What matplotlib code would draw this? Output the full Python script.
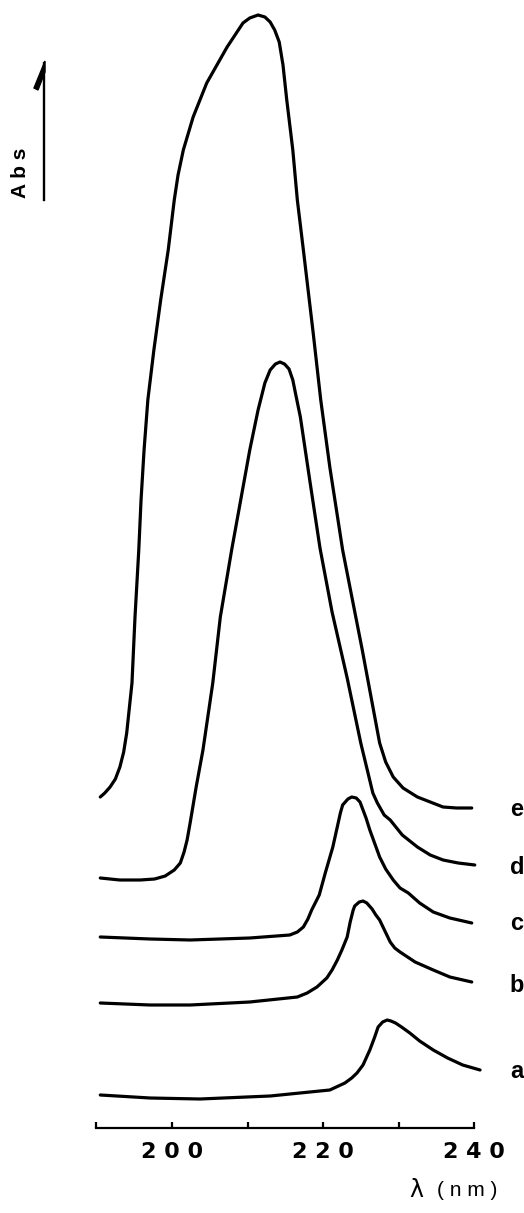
import numpy as np
import matplotlib
matplotlib.use('Agg')
import matplotlib.pyplot as plt
from matplotlib.patches import Polygon

### spectra: wavelength (nm), absorbance (arb. units, offset)
lam_a = [190.5, 197.1, 203.7, 213.0, 220.9, 222.9, 223.8, 224.5, 225.3, 226.2, 226.8, 227.3,
         227.9, 228.5, 229.0, 229.6, 230.4, 231.5, 232.8, 234.6, 236.5, 238.5, 240.8]
abs_a = [0.33, 0.30, 0.29, 0.32, 0.38, 0.45, 0.50, 0.55, 0.63, 0.78, 0.90, 1.01,
         1.06, 1.08, 1.07, 1.05, 1.01, 0.95, 0.87, 0.78, 0.70, 0.63, 0.58]

lam_b = [190.5, 197.1, 202.4, 210.3, 216.6, 217.9, 219.2, 220.5, 221.2, 221.9, 222.5, 223.2,
         223.6, 224.0, 224.2, 224.8, 225.3, 225.8, 226.5, 227.0, 227.5, 228.9, 229.5,
         230.2, 232.2, 234.6, 236.8, 239.7]
abs_b = [1.25, 1.23, 1.23, 1.26, 1.31, 1.35, 1.41, 1.50, 1.58, 1.68, 1.78, 1.91,
         2.06, 2.18, 2.22, 2.26, 2.27, 2.25, 2.19, 2.13, 2.08, 1.86, 1.80,
         1.76, 1.66, 1.58, 1.51, 1.46]

lam_c = [190.5, 197.1, 202.4, 210.3, 215.6, 216.6, 217.4, 218.0, 218.5, 219.5, 220.3, 221.3,
         222.3, 222.6, 223.3, 223.8, 224.4, 224.9, 225.3, 225.7, 226.2, 227.5, 228.3,
         229.3, 230.2, 231.3, 232.8, 234.6, 236.8, 239.7]
abs_c = [1.91, 1.89, 1.88, 1.90, 1.93, 1.96, 2.01, 2.09, 2.18, 2.33, 2.55, 2.81,
         3.15, 3.23, 3.29, 3.31, 3.30, 3.26, 3.18, 3.10, 2.98, 2.71, 2.59,
         2.48, 2.40, 2.35, 2.25, 2.16, 2.10, 2.05]

lam_d = [190.5, 193.1, 195.8, 197.7, 199.1, 200.3, 201.1, 201.6, 202.0, 202.4, 203.2, 204.1,
         205.4, 206.4, 207.9, 210.3, 211.4, 212.3, 213.0, 213.7, 214.3, 214.9, 215.5,
         216.0, 216.4, 217.0, 218.3, 219.6, 221.2, 223.2, 225.0, 226.6, 227.2, 228.1,
         228.9, 230.5, 232.5, 234.2, 235.9, 237.9, 240.1]
abs_d = [2.50, 2.48, 2.48, 2.49, 2.52, 2.58, 2.65, 2.76, 2.88, 3.05, 3.41, 3.78,
         4.45, 5.11, 5.78, 6.78, 7.18, 7.45, 7.58, 7.64, 7.66, 7.64, 7.59,
         7.48, 7.33, 7.11, 6.45, 5.80, 5.16, 4.50, 3.85, 3.35, 3.25, 3.13,
         3.08, 2.93, 2.81, 2.73, 2.68, 2.65, 2.63]

lam_e = [190.5, 191.1, 191.8, 192.5, 193.1, 193.6, 194.0, 194.7, 195.1, 195.6, 195.9, 196.3,
         196.8, 197.6, 198.5, 199.5, 200.3, 200.8, 201.5,
         202.8, 204.6, 207.3, 209.4, 210.3, 211.4, 212.3, 213.0, 213.6, 214.2, 214.7,
         215.2, 216.0, 216.6, 217.4, 218.7, 219.7, 220.9, 222.6, 225.2, 227.5, 228.3,
         229.3, 230.6, 232.5, 235.9, 237.7, 239.7]
abs_e = [3.31, 3.35, 3.41, 3.49, 3.61, 3.76, 3.95, 4.45, 5.11, 5.78, 6.28, 6.78,
         7.28, 7.78, 8.28, 8.78, 9.28, 9.53, 9.78,
         10.11, 10.45, 10.81, 11.05, 11.10, 11.13, 11.11, 11.06, 10.98, 10.86, 10.63,
         10.28, 9.78, 9.28, 8.78, 7.95, 7.28, 6.61, 5.78, 4.78, 3.85, 3.66,
         3.51, 3.40, 3.31, 3.21, 3.20, 3.20]

names = ['a', 'b', 'c', 'd', 'e']
label_abs = [0.56, 1.43, 2.05, 2.61, 3.18]
xticks = [190, 200, 210, 220, 230, 240]
xticklabels = ['', '2 0 0', '', '2 2 0', '', '2 4 0']

### figure
W, H = 524, 1213
fig = plt.figure(figsize=(W / 100, H / 100), dpi=100)
ax = fig.add_axes([0, 0, 1, 1])
ax.set_xlim(177.22, 246.62)
ax.set_ylim(-0.85, 11.28)

for lam, ab in zip([lam_a, lam_b, lam_c, lam_d, lam_e], [abs_a, abs_b, abs_c, abs_d, abs_e]):
    ax.plot(lam, ab, color='black', lw=2.3, solid_capstyle='round', solid_joinstyle='round')

for nm, yl in zip(names, label_abs):
    ax.text(245.7, yl, nm, ha='center', va='center', fontsize=17,
            fontweight='bold', family='Liberation Sans')

### wavelength axis
for s in ['top', 'left', 'right']:
    ax.spines[s].set_visible(False)
ax.spines['bottom'].set_position(('data', 0))
ax.spines['bottom'].set_bounds(190, 240)
ax.spines['bottom'].set_linewidth(1.6)
ax.set_xticks(xticks)
ax.set_xticklabels(xticklabels, fontsize=16, fontweight='bold', family='DejaVu Sans')
ax.tick_params(axis='x', direction='in', length=4, width=1.6, pad=10)
ax.set_yticks([])
ax.patch.set_alpha(0)

ax.text(232.4, -0.62, 'λ', ha='center', va='center', fontsize=17, family='DejaVu Sans')
ax.text(239.1, -0.63, '( n m )', ha='center', va='center', fontsize=15, family='Liberation Sans')

### Abs arrow (pixel positions -> axes fraction)
def px(x, y):
    return (x / W, 1 - y / H)

ax.plot(*zip(px(44, 63), px(44, 200)), transform=ax.transAxes, color='black', lw=1.7)
ax.add_patch(Polygon([px(45, 61), px(34, 88), px(38, 90), px(45, 72)], closed=True,
                     transform=ax.transAxes, color='black'))
ax.text(20 / W, 1 - 173 / H, 'A b s', rotation=90, ha='center', va='center',
        transform=ax.transAxes, fontsize=15, fontweight='bold', family='Liberation Sans')

fig.savefig('out.png', dpi=100)
